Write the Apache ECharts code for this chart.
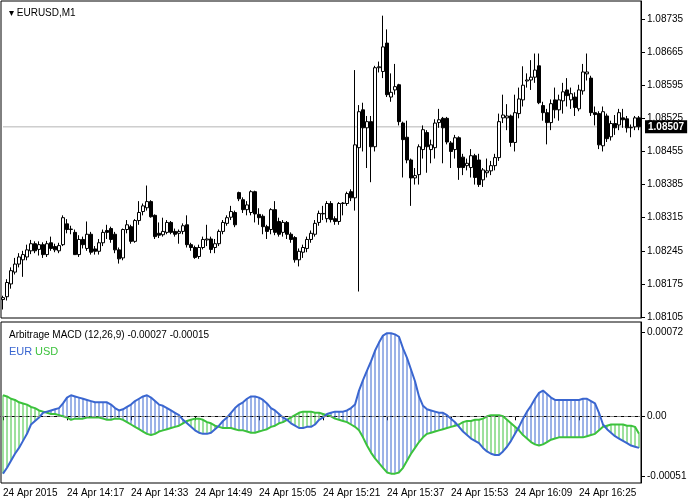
<!DOCTYPE html>
<html><head><meta charset="utf-8">
<script src="https://cdn.jsdelivr.net/npm/echarts@6/dist/echarts.min.js"></script>
<style>html,body{margin:0;padding:0;background:#fff}#c{width:693px;height:500px}</style>
</head><body><div id="c"></div>
<script>
// [open, close, low, high]
const candles = [
[1.08142,1.08146,1.08121,1.08150],[1.08148,1.08178,1.08140,1.08185],[1.08175,1.08203,1.08165,1.08210],[1.08200,1.08217,1.08195,1.08230],
[1.08217,1.08232,1.08210,1.08240],[1.08226,1.08237,1.08190,1.08245],[1.08232,1.08247,1.08225,1.08258],[1.08245,1.08260,1.08238,1.08268],
[1.08260,1.08245,1.08240,1.08265],[1.08248,1.08258,1.08235,1.08265],[1.08258,1.08237,1.08230,1.08263],[1.08237,1.08260,1.08232,1.08266],
[1.08262,1.08250,1.08245,1.08275],[1.08254,1.08247,1.08242,1.08260],[1.08245,1.08256,1.08240,1.08262],[1.08258,1.08315,1.08255,1.08320],
[1.08302,1.08290,1.08282,1.08312],[1.08290,1.08291,1.08280,1.08298],[1.08284,1.08237,1.08237,1.08290],[1.08237,1.08269,1.08232,1.08278],
[1.08269,1.08258,1.08250,1.08275],[1.08250,1.08280,1.08245,1.08307],[1.08280,1.08242,1.08237,1.08285],[1.08249,1.08244,1.08237,1.08255],
[1.08244,1.08262,1.08237,1.08270],[1.08262,1.08284,1.08255,1.08290],[1.08288,1.08284,1.08270,1.08300],[1.08292,1.08269,1.08262,1.08296],
[1.08280,1.08247,1.08240,1.08285],[1.08247,1.08228,1.08218,1.08252],[1.08230,1.08290,1.08225,1.08292],[1.08290,1.08300,1.08282,1.08310],
[1.08296,1.08265,1.08260,1.08300],[1.08265,1.08309,1.08262,1.08312],[1.08309,1.08326,1.08300,1.08350],[1.08328,1.08340,1.08320,1.08345],
[1.08336,1.08349,1.08330,1.08383],[1.08349,1.08317,1.08315,1.08352],[1.08320,1.08275,1.08270,1.08322],[1.08282,1.08278,1.08272,1.08305],
[1.08279,1.08286,1.08275,1.08315],[1.08284,1.08305,1.08280,1.08310],[1.08305,1.08284,1.08280,1.08308],[1.08286,1.08280,1.08275,1.08292],
[1.08282,1.08286,1.08260,1.08290],[1.08286,1.08298,1.08280,1.08303],[1.08300,1.08258,1.08252,1.08320],[1.08258,1.08252,1.08245,1.08262],
[1.08252,1.08231,1.08228,1.08256],[1.08233,1.08252,1.08228,1.08258],[1.08252,1.08269,1.08248,1.08275],[1.08268,1.08270,1.08255,1.08300],
[1.08270,1.08248,1.08240,1.08275],[1.08252,1.08260,1.08240,1.08270],[1.08260,1.08286,1.08255,1.08290],[1.08286,1.08305,1.08280,1.08310],
[1.08303,1.08315,1.08298,1.08320],[1.08316,1.08328,1.08310,1.08340],[1.08326,1.08300,1.08295,1.08330],[1.08368,1.08355,1.08350,1.08370],
[1.08353,1.08332,1.08325,1.08358],[1.08332,1.08342,1.08320,1.08350],[1.08326,1.08370,1.08320,1.08373],[1.08370,1.08323,1.08305,1.08372],
[1.08322,1.08315,1.08300,1.08335],[1.08318,1.08296,1.08280,1.08322],[1.08296,1.08286,1.08270,1.08300],[1.08290,1.08332,1.08280,1.08335],
[1.08332,1.08284,1.08278,1.08350],[1.08307,1.08280,1.08275,1.08315],[1.08284,1.08305,1.08275,1.08310],[1.08305,1.08280,1.08270,1.08308],
[1.08280,1.08269,1.08262,1.08284],[1.08273,1.08226,1.08220,1.08276],[1.08226,1.08244,1.08212,1.08250],[1.08242,1.08252,1.08230,1.08258],
[1.08250,1.08269,1.08242,1.08275],[1.08269,1.08282,1.08262,1.08288],[1.08280,1.08303,1.08275,1.08310],[1.08305,1.08324,1.08298,1.08330],
[1.08323,1.08324,1.08310,1.08340],[1.08313,1.08345,1.08305,1.08350],[1.08345,1.08311,1.08305,1.08350],[1.08313,1.08307,1.08300,1.08318],
[1.08307,1.08345,1.08300,1.08348],[1.08345,1.08346,1.08320,1.08348],[1.08345,1.08366,1.08340,1.08370],[1.08370,1.08357,1.08350,1.08375],
[1.08357,1.08469,1.08330,1.08627],[1.08463,1.08539,1.08159,1.08553],[1.08543,1.08505,1.08455,1.08558],[1.08505,1.08518,1.08420,1.08530],
[1.08518,1.08465,1.08390,1.08530],[1.08465,1.08632,1.08455,1.08636],[1.08632,1.08634,1.08622,1.08645],[1.08624,1.08676,1.08610,1.08742],
[1.08684,1.08575,1.08570,1.08713],[1.08570,1.08580,1.08560,1.08620],[1.08585,1.08592,1.08575,1.08640],[1.08596,1.08518,1.08510,1.08598],
[1.08515,1.08480,1.08400,1.08518],[1.08485,1.08437,1.08430,1.08520],[1.08437,1.08399,1.08340,1.08440],[1.08399,1.08404,1.08385,1.08420],
[1.08406,1.08465,1.08385,1.08470],[1.08459,1.08501,1.08440,1.08510],[1.08495,1.08465,1.08410,1.08500],[1.08459,1.08469,1.08430,1.08480],
[1.08463,1.08515,1.08440,1.08523],[1.08516,1.08522,1.08505,1.08545],[1.08525,1.08505,1.08430,1.08528],[1.08525,1.08475,1.08470,1.08528],
[1.08473,1.08455,1.08420,1.08477],[1.08459,1.08484,1.08440,1.08490],[1.08484,1.08421,1.08395,1.08487],[1.08443,1.08421,1.08405,1.08450],
[1.08425,1.08430,1.08415,1.08440],[1.08421,1.08446,1.08400,1.08460],[1.08446,1.08400,1.08385,1.08450],[1.08437,1.08385,1.08380,1.08450],
[1.08395,1.08416,1.08380,1.08420],[1.08410,1.08414,1.08400,1.08440],[1.08414,1.08425,1.08405,1.08435],[1.08425,1.08442,1.08415,1.08450],
[1.08442,1.08518,1.08435,1.08535],[1.08526,1.08532,1.08515,1.08575],[1.08526,1.08530,1.08500,1.08555],[1.08530,1.08474,1.08465,1.08533],
[1.08474,1.08537,1.08455,1.08575],[1.08535,1.08566,1.08525,1.08590],[1.08564,1.08595,1.08550,1.08635],[1.08604,1.08606,1.08590,1.08620],
[1.08606,1.08612,1.08585,1.08648],[1.08612,1.08627,1.08600,1.08662],[1.08636,1.08558,1.08555,1.08662],[1.08552,1.08537,1.08520,1.08560],
[1.08537,1.08516,1.08470,1.08545],[1.08516,1.08556,1.08500,1.08565],[1.08564,1.08543,1.08525,1.08590],[1.08543,1.08564,1.08520,1.08575],
[1.08562,1.08581,1.08535,1.08600],[1.08585,1.08573,1.08550,1.08610],[1.08564,1.08577,1.08545,1.08590],[1.08570,1.08548,1.08530,1.08580],
[1.08545,1.08585,1.08540,1.08596],[1.08583,1.08623,1.08575,1.08640],[1.08619,1.08623,1.08605,1.08662],[1.08610,1.08537,1.08530,1.08615],
[1.08537,1.08533,1.08510,1.08550],[1.08535,1.08469,1.08460,1.08540],[1.08467,1.08539,1.08455,1.08550],[1.08530,1.08482,1.08475,1.08535],
[1.08486,1.08514,1.08478,1.08520],[1.08514,1.08505,1.08490,1.08532],[1.08511,1.08537,1.08500,1.08545],[1.08526,1.08522,1.08505,1.08545],
[1.08524,1.08505,1.08495,1.08530],[1.08505,1.08506,1.08485,1.08512],[1.08507,1.08526,1.08500,1.08530],[1.08526,1.08507,1.08500,1.08530]
];
// indicator values in units of 0.00001
const eurE5 = [
-49,-44,-38,-32,-27,-21,-15,-7,-4,-1,
3,4,5,6,7,11,16,18,17,16,
15,14,13,12,12,12,12,10,7,5,
6,8,10,13,15,17,18,16,13,10,
9,7,5,3,1,-3,-6,-9,-12,-14,
-15,-15,-14,-11,-8,-4,-1,3,7,10,
12,15,17,17,16,14,11,7,5,2,
-1,-3,-6,-8,-10,-10,-9,-9,-7,-3,
-1,2,3,4,4,4,5,7,10,22,
31,39,47,56,63,69,71,71,70,68,
58,50,40,30,17,9,6,5,4,3,
3,1,-2,-5,-9,-13,-16,-19,-21,-23,
-27,-30,-32,-33,-33,-30,-26,-21,-15,-9,
-2,4,9,15,20,22,19,16,14,14,
14,14,14,14,14,15,15,13,11,3,
-7,-11,-14,-17,-19,-21,-23,-25,-26,-27];
const usdE5 = [
18,17,15,14,12,11,10,8,7,5,
4,3,2,2,1,0,-1,-3,-2,-2,
-2,-1,-1,-1,-1,-2,-3,-3,-2,-2,
-3,-5,-7,-9,-11,-13,-15,-16,-15,-13,
-12,-11,-10,-9,-8,-6,-4,-3,-2,-2,
-3,-5,-6,-8,-9,-10,-10,-10,-11,-12,
-12,-13,-14,-14,-13,-12,-11,-9,-8,-6,
-5,-3,-1,1,3,4,4,4,3,3,
2,1,0,-2,-3,-4,-5,-7,-9,-12,
-18,-25,-31,-36,-40,-44,-48,-49,-49,-48,
-44,-38,-32,-27,-22,-18,-15,-14,-13,-12,
-11,-10,-9,-8,-7,-5,-4,-4,-3,-3,
-2,0,1,1,1,0,-3,-6,-9,-12,
-16,-19,-22,-24,-25,-24,-22,-20,-19,-18,
-18,-18,-18,-18,-18,-18,-17,-16,-15,-12,
-9,-8,-7,-7,-7,-7,-8,-8,-9,-15];
const timeLabels = ['24 Apr 2015','24 Apr 14:17','24 Apr 14:33','24 Apr 14:49','24 Apr 15:05','24 Apr 15:21','24 Apr 15:37','24 Apr 15:53','24 Apr 16:09','24 Apr 16:25'];
const priceTicks = [1.08105,1.08175,1.08245,1.08315,1.08385,1.08455,1.08525,1.08595,1.08665,1.08735];
const macdTicks = [0.00072,0,-0.00051];
const lastPrice = 1.08507;

const n = candles.length;
const cats = candles.map((_, i) => (i % 16 === 0 ? timeLabels[i / 16] : ''));
const eur = eurE5.map(v => v / 1e5);
const usd = usdE5.map(v => v / 1e5);
const BLUE = '#3a66d0', GREEN = '#3cc23c';
const FONT = 'Liberation Sans';

const chart = echarts.init(document.getElementById('c'), null, {renderer: 'canvas'});
chart.setOption({
  animation: false,
  textStyle: {fontFamily: FONT},
  grid: [
    {left: 1, width: 640, top: 1, height: 317, show: true, borderColor: '#000', borderWidth: 1, backgroundColor: '#fff'},
    {left: 1, width: 640, top: 322, height: 161, show: true, borderColor: '#000', borderWidth: 1, backgroundColor: '#fff'}
  ],
  title: [
    {text: '▾ EURUSD,M1', left: 4, top: 3, textStyle: {fontSize: 10, fontWeight: 'normal', color: '#000', fontFamily: FONT}},
    {text: 'Arbitrage MACD (12,26,9) -0.00027 -0.00015', left: 4, top: 325, textStyle: {fontSize: 10, fontWeight: 'normal', color: '#000', fontFamily: FONT}},
    {text: '{e|EUR} {u|USD}', left: 4, top: 341, textStyle: {fontSize: 10, fontWeight: 'normal', fontFamily: FONT, rich: {e: {color: BLUE, fontSize: 11, fontFamily: FONT}, u: {color: GREEN, fontSize: 11, fontFamily: FONT}}}}
  ],
  xAxis: [
    {type: 'category', gridIndex: 0, data: cats, boundaryGap: true, axisLine: {show: false}, axisTick: {show: false}, axisLabel: {show: false}, splitLine: {show: false}},
    {type: 'category', gridIndex: 1, data: cats, boundaryGap: true, axisLine: {show: true, lineStyle: {color: '#000'}},
     axisTick: {show: true, interval: (i) => i % 16 === 0, alignWithLabel: true, length: 4, lineStyle: {color: '#000'}},
     axisLabel: {show: true, interval: (i) => i % 16 === 0, align: 'left', color: '#000', fontSize: 10, margin: 5, fontFamily: FONT},
     splitLine: {show: false}}
  ],
  yAxis: [
    {type: 'value', gridIndex: 0, position: 'right', min: 1.08103, max: 1.08773, scale: true,
     axisLine: {show: true, lineStyle: {color: '#000'}}, splitLine: {show: false},
     axisTick: {show: true, customValues: priceTicks, length: 4, lineStyle: {color: '#000'}},
     axisLabel: {customValues: priceTicks, color: '#000', fontSize: 10, margin: 6, fontFamily: FONT, formatter: v => v.toFixed(5)}},
    {type: 'value', gridIndex: 1, position: 'right', min: -0.00057, max: 0.000806,
     axisLine: {show: true, lineStyle: {color: '#000'}}, splitLine: {show: false},
     axisTick: {show: true, customValues: macdTicks, length: 4, lineStyle: {color: '#000'}},
     axisLabel: {customValues: macdTicks, color: '#000', fontSize: 10, margin: 6, fontFamily: FONT, formatter: v => (v === 0 ? '0.00' : v.toFixed(5))}}
  ],
  series: [
    {type: 'line', xAxisIndex: 0, yAxisIndex: 0, data: candles.map(() => lastPrice), showSymbol: false, silent: true,
     lineStyle: {color: '#b4b4b4', width: 1}, z: 1,
     endLabel: {show: true, formatter: () => lastPrice.toFixed(5), color: '#fff', backgroundColor: '#000',
       padding: [2, 3, 1, 3], fontSize: 10, fontWeight: 'bold', distance: 6, fontFamily: FONT}},
    {type: 'candlestick', xAxisIndex: 0, yAxisIndex: 0, data: candles, barWidth: 3, z: 2,
     itemStyle: {color: '#fff', color0: '#000', borderColor: '#000', borderColor0: '#000', borderWidth: 1}},
    {type: 'custom', xAxisIndex: 1, yAxisIndex: 1, data: eur.map((v, i) => [i, v, usd[i]]),
     renderItem: (params, api) => {
       const a = api.coord([api.value(0), api.value(1)]);
       const b = api.coord([api.value(0), api.value(2)]);
       return {type: 'line', shape: {x1: a[0], y1: a[1], x2: b[0], y2: b[1]},
         style: {stroke: api.value(1) >= api.value(2) ? BLUE : GREEN, lineWidth: 1}};
     }, z: 1},
    {type: 'line', xAxisIndex: 1, yAxisIndex: 1, data: usd, showSymbol: false, lineStyle: {color: GREEN, width: 2}, z: 3,
     markLine: {silent: true, symbol: 'none', data: [{yAxis: 0}], lineStyle: {color: '#888', type: [4, 3], width: 1}, label: {show: false}}},
    {type: 'line', xAxisIndex: 1, yAxisIndex: 1, data: eur, showSymbol: false, lineStyle: {color: BLUE, width: 2}, z: 4}
  ]
});
</script></body></html>
